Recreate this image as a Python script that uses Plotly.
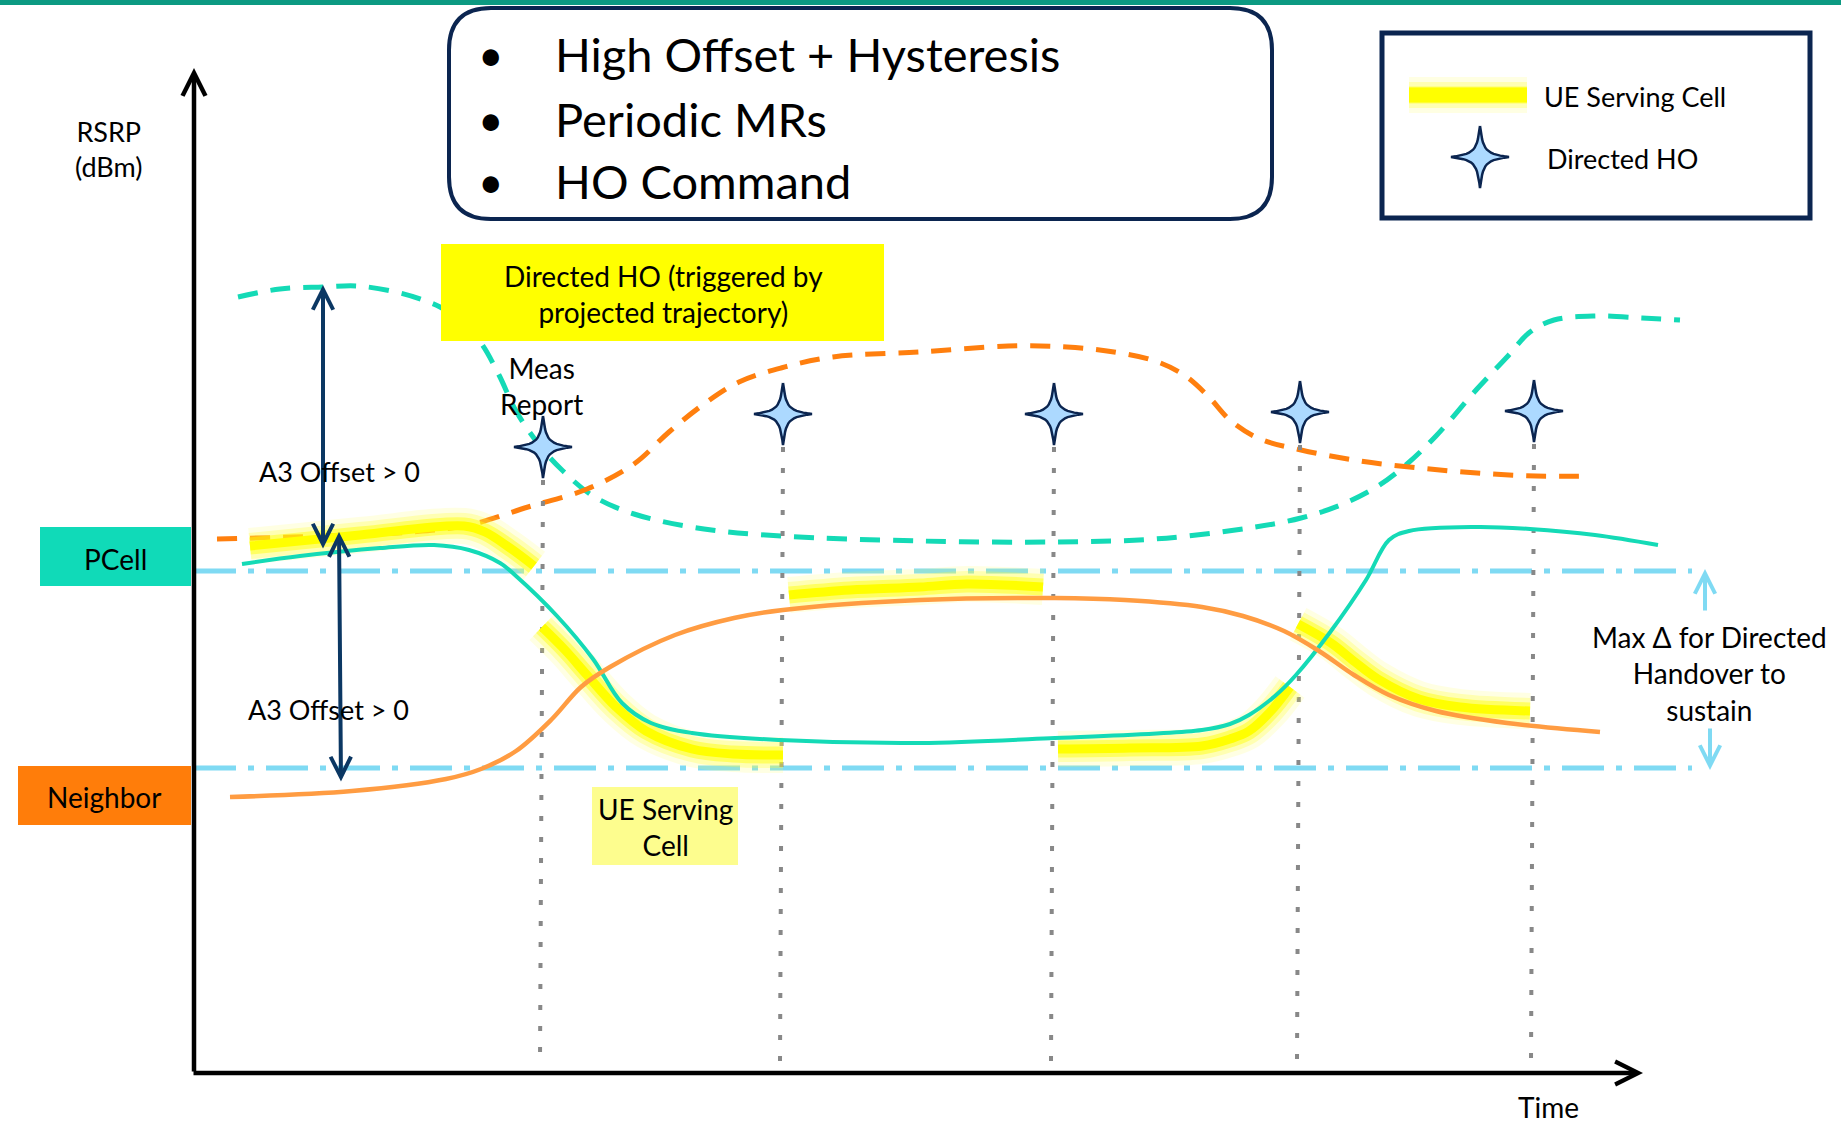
import plotly.graph_objects as go

# ---------------- data (time units / RSRP level; y grows downward) -------------
pcell_t = [242, 300, 380, 434, 469, 500, 516, 557, 593, 622, 651, 692, 780, 920, 1055, 1202, 1230, 1249, 1275, 1296, 1331, 1366, 1389, 1409, 1477, 1530, 1595, 1658]
pcell_v = [564, 556, 548, 545, 550, 563, 576, 616, 659, 703, 723, 733, 740, 743, 738, 730, 724, 715, 696, 675, 631, 580, 540, 531, 527, 529, 535, 545]

nbr_t = [230, 352, 446, 481, 516, 552, 581, 610, 675, 734, 783, 920, 1055, 1125, 1202, 1243, 1284, 1319, 1354, 1389, 1436, 1507, 1600]
nbr_v = [797, 791, 779, 769, 751, 719, 687, 667, 635, 618, 610, 600, 598, 600, 607, 616, 631, 651, 675, 695, 711, 723, 732]

pcell_proj_t = [238, 280, 323, 358, 400, 423, 440, 462, 481, 499, 516, 540, 563, 593, 634, 704, 781, 920, 1055, 1155, 1249, 1301, 1343, 1378, 1407, 1436, 1477, 1507, 1530, 1554, 1595, 1642, 1680]
pcell_proj_v = [297, 289, 287, 286, 293, 300, 307, 322, 343, 375, 411, 446, 471, 496, 514, 529, 536, 541, 542, 539, 528, 518, 504, 486, 464, 436, 389, 357, 332, 320, 316, 318, 320]

nbr_proj_t = [217, 323, 411, 469, 528, 587, 634, 669, 704, 739, 781, 833, 920, 1008, 1067, 1114, 1155, 1184, 1208, 1231, 1260, 1301, 1360, 1419, 1477, 1536, 1592]
nbr_proj_v = [539, 536, 532, 525, 507, 489, 464, 432, 404, 382, 368, 357, 352, 346, 347, 352, 361, 375, 396, 421, 439, 450, 461, 468, 473, 476, 476]

serving_segments = [
    ([250, 360, 464, 485, 510, 534], [546, 535, 526, 532, 548, 566]),
    ([542, 565, 587, 616, 646, 692, 733, 783], [627, 650, 675, 707, 731, 749, 754, 755]),
    ([789, 850, 920, 967, 1043], [595, 590, 587, 584, 587]),
    ([1058, 1130, 1202, 1230, 1249, 1270, 1290], [749, 748, 746, 739, 731, 712, 687]),
    ([1298, 1331, 1355, 1378, 1419, 1460, 1530], [624, 643, 662, 679, 699, 707, 711]),
]

ho_t = [543, 783, 1054, 1300, 1534]
ho_v = [447, 414, 414, 412, 411]

pcell_level = 571
nbr_level = 768

# ---------------- style -------------
FONT = "Lato, Carlito, Calibri, sans-serif"
TEAL = "#14dab6"
ORANGE = "#ff7f0e"
ORANGE_SOLID = "#ff9c42"
LBLUE = "#7fdaf3"
NAVY = "#0b3763"
DARK = "#0b2550"
STAR_HX, STAR_HY = 29, 31
STAR_K, STAR_W = 0.2, 3.0

fig = go.Figure()

def glow(xs, ys):
    for w, c in [(36, "rgba(255,255,80,0.16)"), (26, "rgba(255,255,50,0.28)"), (17, "rgba(255,255,0,0.45)")]:
        fig.add_trace(go.Scatter(x=xs, y=ys, mode="lines", line=dict(color=c, width=w, shape="spline"),
                                 hoverinfo="skip", showlegend=False))

def ctrl(p, q):
    # control point near tip p, pulled slightly toward the side of q
    if p[0] == 0:
        return ((1 if q[0] > 0 else -1) * STAR_W, p[1] * STAR_K)
    return (p[0] * STAR_K, (1 if q[1] > 0 else -1) * STAR_W)

def star(cx, cy):
    tips = [(0, -STAR_HY), (STAR_HX, 0), (0, STAR_HY), (-STAR_HX, 0)]
    xs, ys = [], []
    for i in range(4):
        p0 = tips[i]
        p3 = tips[(i + 1) % 4]
        p1 = ctrl(p0, p3)
        p2 = ctrl(p3, p0)
        for k in range(14):
            s = k / 14
            a, b, c, d = (1 - s) ** 3, 3 * (1 - s) ** 2 * s, 3 * (1 - s) * s ** 2, s ** 3
            xs.append(cx + a * p0[0] + b * p1[0] + c * p2[0] + d * p3[0])
            ys.append(cy + a * p0[1] + b * p1[1] + c * p2[1] + d * p3[1])
    xs.append(xs[0]); ys.append(ys[0])
    fig.add_trace(go.Scatter(x=xs, y=ys, mode="lines", fill="toself", fillcolor="#acd9ff",
                             line=dict(color=DARK, width=2.5), hoverinfo="skip", showlegend=False))

# dashed projections
fig.add_trace(go.Scatter(x=pcell_proj_t, y=pcell_proj_v, mode="lines",
                         line=dict(color=TEAL, width=5, dash="20px,13px", shape="spline", smoothing=1),
                         showlegend=False))
fig.add_trace(go.Scatter(x=nbr_proj_t, y=nbr_proj_v, mode="lines",
                         line=dict(color=ORANGE, width=5, dash="20px,13px", shape="spline", smoothing=1),
                         showlegend=False))

# threshold dash-dot lines
for lvl in [pcell_level, nbr_level]:
    fig.add_trace(go.Scatter(x=[194, 1692], y=[lvl, lvl], mode="lines",
                             line=dict(color=LBLUE, width=5, dash="42px,12px,6px,12px"), showlegend=False))

# dotted verticals under HO stars
for t, v in zip(ho_t, ho_v):
    fig.add_trace(go.Scatter(x=[t, t - 3], y=[v + 33, 1062], mode="lines",
                             line=dict(color="#888888", width=4, dash="5px,16px"), showlegend=False))

# serving-cell highlight glows
for xs, ys in serving_segments:
    glow(xs, ys)
for xs, ys in serving_segments:
    fig.add_trace(go.Scatter(x=xs, y=ys, mode="lines", line=dict(color="#ffff00", width=9, shape="spline"),
                             showlegend=False))

# measured RSRP curves
fig.add_trace(go.Scatter(x=pcell_t, y=pcell_v, mode="lines",
                         line=dict(color=TEAL, width=4, shape="spline", smoothing=1), showlegend=False))
fig.add_trace(go.Scatter(x=nbr_t, y=nbr_v, mode="lines",
                         line=dict(color=ORANGE_SOLID, width=4.5, shape="spline", smoothing=1), showlegend=False))

# HO stars
for t, v in zip(ho_t, ho_v):
    star(t, v)

# legend samples
glow([1409, 1527], [95, 95])
fig.add_trace(go.Scatter(x=[1409, 1527], y=[95, 95], mode="lines", line=dict(color="#ffff00", width=15),
                         showlegend=False))
star(1480, 157)

shapes = []
# top band
shapes.append(dict(type="rect", xref="paper", yref="paper", x0=0, x1=1, y0=0.9955, y1=1.0,
                   fillcolor="#0c9a82", line=dict(width=0), layer="above"))
# title rounded box
x0, y0, x1, y1, r = 449, 8, 1272, 219, 42
path = (f"M {x0+r},{y0} L {x1-r},{y0} Q {x1},{y0} {x1},{y0+r} L {x1},{y1-r} Q {x1},{y1} {x1-r},{y1} "
        f"L {x0+r},{y1} Q {x0},{y1} {x0},{y1-r} L {x0},{y0+r} Q {x0},{y0} {x0+r},{y0} Z")
shapes.append(dict(type="path", path=path, line=dict(color=DARK, width=4), fillcolor="rgba(0,0,0,0)", layer="above"))
# legend box
shapes.append(dict(type="rect", x0=1382, x1=1810, y0=33, y1=218, line=dict(color=DARK, width=5),
                   fillcolor="rgba(0,0,0,0)", layer="above"))
# yellow callout box
shapes.append(dict(type="rect", x0=441, x1=884, y0=244, y1=341, fillcolor="#ffff00", line=dict(width=0), layer="above"))
# UE serving cell label box
shapes.append(dict(type="rect", x0=592, x1=738, y0=787, y1=865, fillcolor="#fdfd8e", line=dict(width=0), layer="above"))
# PCell / Neighbor tags
shapes.append(dict(type="rect", x0=40, x1=191, y0=527, y1=586, fillcolor="#10dab8", line=dict(width=0), layer="above"))
shapes.append(dict(type="rect", x0=18, x1=191, y0=766, y1=825, fillcolor="#ff7d0a", line=dict(width=0), layer="above"))

ann = []
def txt(x, y, s, size, xanchor="center", color="black"):
    ann.append(dict(x=x, y=y, text=s, showarrow=False, xanchor=xanchor, yanchor="middle",
                    font=dict(family=FONT, size=size, color=color)))

def arrow(xh, yh, xt, yt, color, width, both=False, head=5, size=1.0):
    ann.append(dict(x=xh, y=yh, ax=xt, ay=yt, axref="x", ayref="y", xref="x", yref="y", text="",
                    showarrow=True, arrowhead=head, startarrowhead=head, arrowsize=size, startarrowsize=size,
                    arrowwidth=width, arrowcolor=color, arrowside="end+start" if both else "end",
                    standoff=0, startstandoff=0))

# axes
arrow(194, 68, 194, 1073, "black", 4.5)
arrow(1643, 1073, 192, 1073, "black", 4.5)
# A3 offset arrows
arrow(323, 285, 323, 550, NAVY, 4, both=True)
arrow(339, 532, 341, 783, NAVY, 4, both=True)
# max delta arrows
arrow(1705, 569, 1705, 612, LBLUE, 4)
arrow(1710, 770, 1710, 727, LBLUE, 4)

for yy, s in [(54, "High Offset + Hysteresis"), (119, "Periodic MRs"), (181, "HO Command")]:
    txt(491, yy, "•", 44)
    txt(553, yy, s, 47, xanchor="left")

txt(1542, 96, "UE Serving Cell", 27, xanchor="left")
txt(1545, 158, "Directed HO", 27, xanchor="left")
txt(108, 149, "RSRP<br>(dBm)", 27)
txt(663, 294, "Directed HO (triggered by<br>projected trajectory)", 28)
txt(541, 386, "Meas<br>Report", 28)
txt(339, 471, "A3 Offset > 0", 27)
txt(328, 709, "A3 Offset > 0", 27)
txt(115, 559, "PCell", 28)
txt(104, 797, "Neighbor", 28)
txt(665, 827, "UE Serving<br>Cell", 28)
txt(1709, 673, "Max Δ for Directed<br>Handover to<br>sustain", 28)
txt(1548, 1107, "Time", 28)

fig.update_layout(
    width=1841, height=1124, margin=dict(l=0, r=0, t=0, b=0),
    paper_bgcolor="white", plot_bgcolor="white",
    xaxis=dict(range=[0, 1841], visible=False, fixedrange=True),
    yaxis=dict(range=[1124, 0], visible=False, fixedrange=True),
    shapes=shapes, annotations=ann, showlegend=False,
)
fig.write_html("out.html", config={"displayModeBar": False},
               post_script="document.body.style.margin='0';document.body.style.overflow='hidden';")
